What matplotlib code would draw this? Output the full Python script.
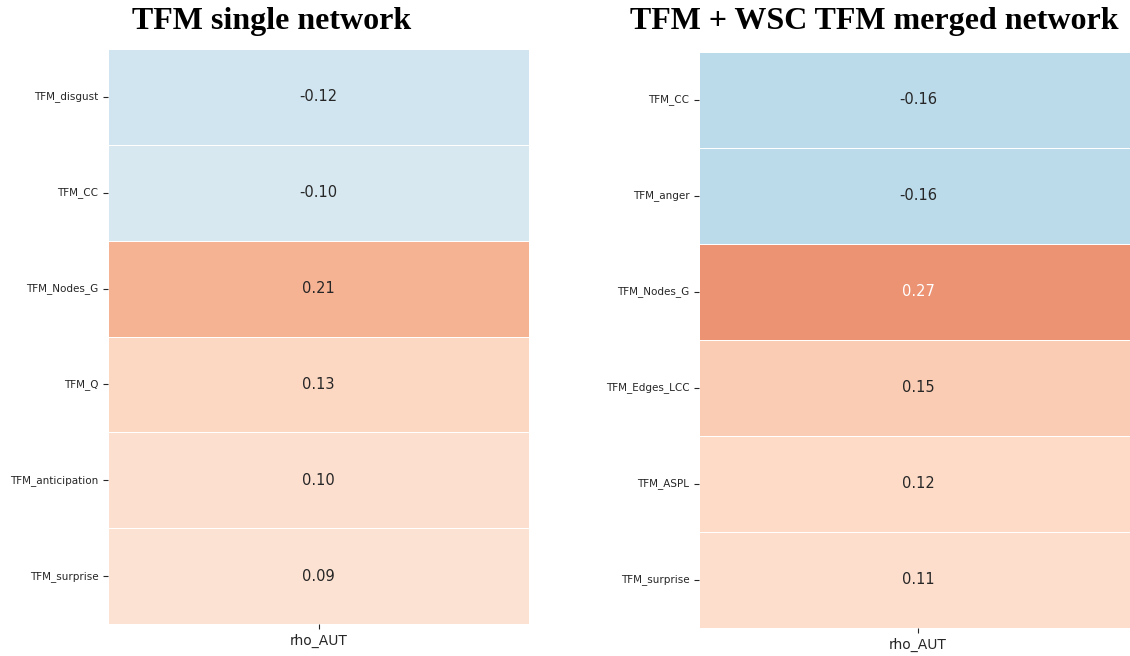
import numpy as np
import pandas as pd
import matplotlib
matplotlib.use("Agg")
import matplotlib.pyplot as plt
import seaborn as sns

# left panel: TFM single network
single_labels = ["TFM_disgust", "TFM_CC", "TFM_Nodes_G", "TFM_Q",
                 "TFM_anticipation", "TFM_surprise"]
single_rho = [-0.12, -0.10, 0.21, 0.13, 0.10, 0.09]

# right panel: TFM + WSC TFM merged network
merged_labels = ["TFM_CC", "TFM_anger", "TFM_Nodes_G", "TFM_Edges_LCC",
                 "TFM_ASPL", "TFM_surprise"]
merged_rho = [-0.16, -0.16, 0.27, 0.15, 0.12, 0.11]

column = "rho_AUT"

W, H = 1130, 656
fig = plt.figure(figsize=(W / 100, H / 100), dpi=100)


def panel(rect, labels, values):
    ax = fig.add_axes(rect)
    df = pd.DataFrame({column: values}, index=labels)
    sns.heatmap(df, ax=ax, annot=True, fmt=".2f", cmap="RdBu_r",
                vmin=-0.6, vmax=0.6, cbar=False, linewidths=0.5,
                linecolor="white", annot_kws={"size": 10.5})
    ax.tick_params(axis="y", labelsize=7.5, rotation=0, length=3.5,
                   colors="0.15")
    ax.tick_params(axis="x", labelsize=10, rotation=0, length=3.5,
                   colors="0.15")
    return ax


panel([108 / W, 1 - 624 / H, 421 / W, 575 / H], single_labels, single_rho)
panel([699 / W, 1 - 628 / H, 438 / W, 576 / H], merged_labels, merged_rho)

fig.text(272 / W, 1 - 22 / H, "TFM single network", ha="center", va="center",
         fontsize=23, fontweight="bold", family="Liberation Serif")
fig.text(874 / W, 1 - 22 / H, "TFM + WSC TFM merged network", ha="center",
         va="center", fontsize=23, fontweight="bold", family="Liberation Serif")

fig.savefig("out.png", dpi=100)
